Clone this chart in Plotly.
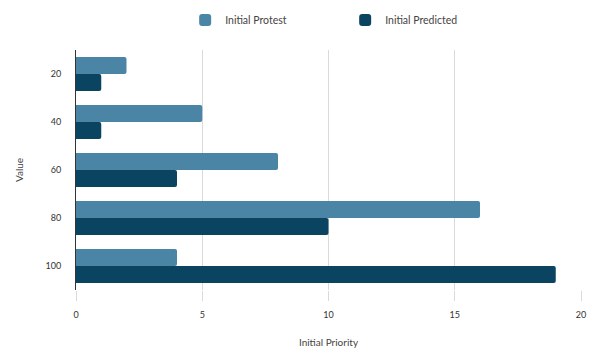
import plotly.graph_objects as go

categories = ["20", "40", "60", "80", "100"]
initial_protest = [2, 5, 8, 16, 4]
initial_predicted = [1, 1, 4, 10, 19]
x_ticks = [0, 5, 10, 15, 20]

fig = go.Figure()
fig.add_trace(go.Bar(
    y=categories, x=initial_protest, orientation="h", name="Initial Protest",
    marker=dict(color="#4A85A6", line=dict(width=0), cornerradius=2),
))
fig.add_trace(go.Bar(
    y=categories, x=initial_predicted, orientation="h", name="Initial Predicted",
    marker=dict(color="#0B4461", line=dict(width=0), cornerradius=2),
))

fig.update_layout(
    width=589, height=348,
    margin=dict(l=76, r=8, t=50, b=58, autoexpand=False),
    paper_bgcolor="white", plot_bgcolor="white",
    barmode="group", bargap=0.29, bargroupgap=0,
    font=dict(family="Lato, sans-serif", size=9, color="#333"),
    legend=dict(orientation="h", x=0.533, xanchor="center", y=1.125, yanchor="middle",
                font=dict(size=10.5, color="#444"), itemwidth=30, traceorder="normal",
                entrywidth=115, entrywidthmode="pixels"),
    xaxis=dict(range=[0, 20], tickvals=x_ticks, showgrid=True, gridcolor="#DADADA",
               gridwidth=1, zeroline=False, showline=False, ticks="outside",
               ticklen=10, tickcolor="#DADADA", automargin=False, ticklabelstandoff=6,
               title=dict(text="Initial Priority", font=dict(size=10, color="#444"), standoff=22)),
    yaxis=dict(categoryorder="array", categoryarray=categories, autorange="reversed",
               showgrid=False, showline=True, linecolor="#333", linewidth=1, ticks="",
               ticklabelstandoff=12, automargin=False,
               title=dict(text="Value", font=dict(size=10, color="#444"), standoff=20)),
)

fig.write_html("out.html")
